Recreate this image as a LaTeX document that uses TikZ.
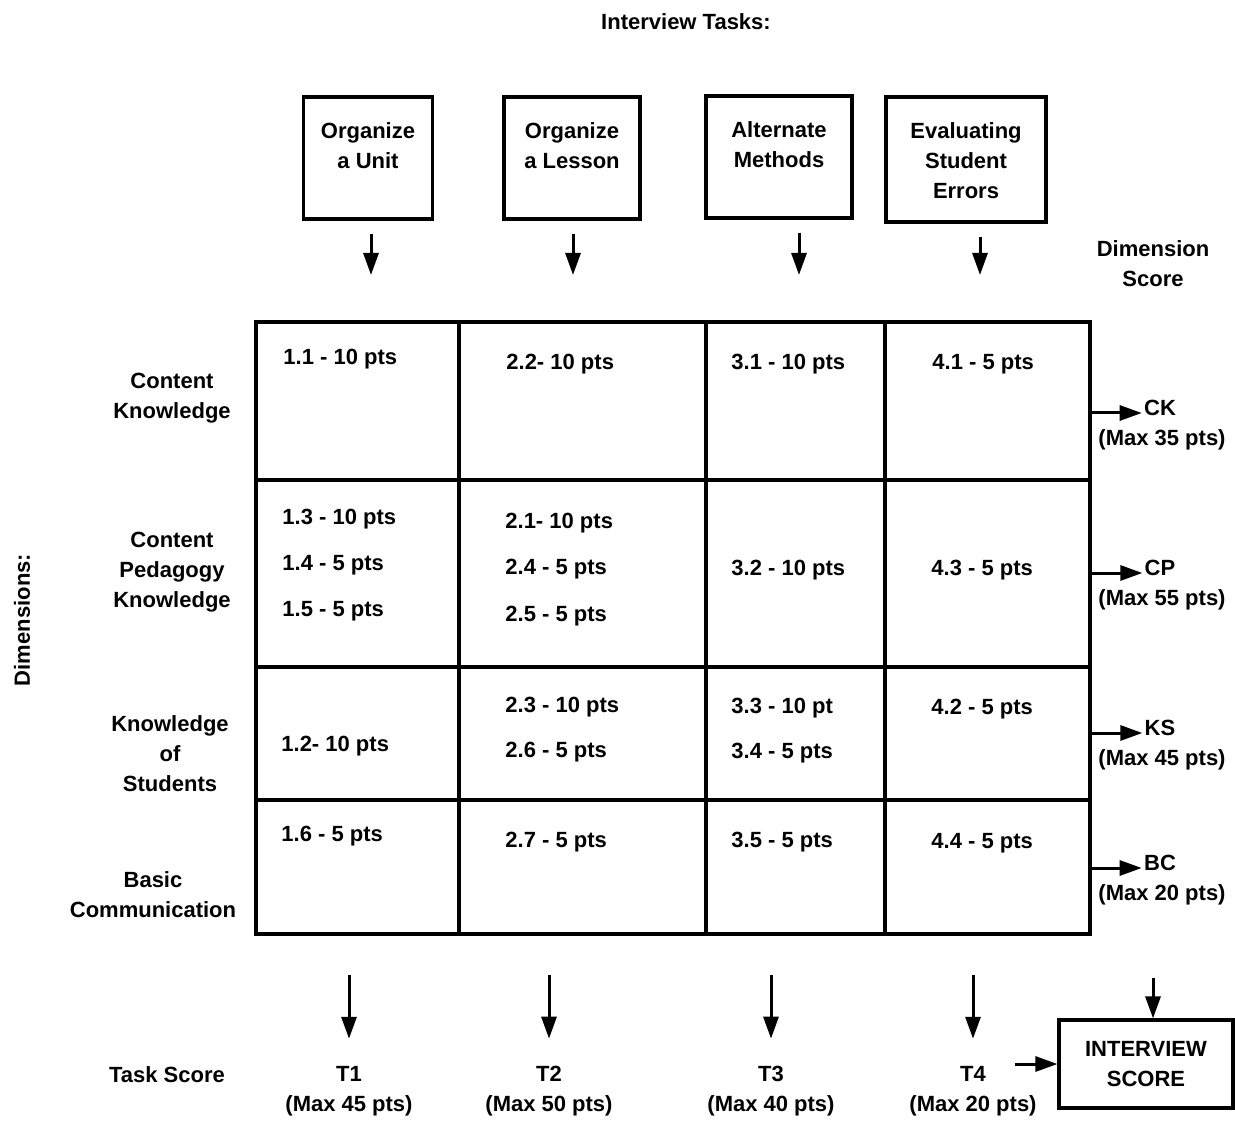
\documentclass[tikz,border=0pt]{standalone}
\usepackage{fontspec}
\setmainfont{Liberation Sans}
\usetikzlibrary{arrows.meta,positioning}

\tikzset{
  lbl/.style={font=\fontsize{11}{15}\selectfont\bfseries, align=center, inner sep=1pt},
  cell/.style={lbl, anchor=west, inner sep=0pt},
  taskbox/.style={draw, line width=1.6pt, minimum width=#1, minimum height=61pt, inner sep=0pt},
  arr/.style={line width=1.5pt, -{Triangle[length=11pt,width=7.5pt]}},
  gridline/.style={line width=1.6pt}
}

\begin{document}
\begin{tikzpicture}[x=0.5pt,y=-0.5pt]
  \useasboundingbox (0,0) rectangle (1235,1122);

  % headings
  \node[lbl] (tasks) at (686,22) {Interview Tasks:};
  \node[lbl] (dimscore) at (1153,264) {Dimension\\Score};
  \node[lbl, rotate=90] (dims) at (22,620) {Dimensions:};
  \node[lbl] (taskscore) at (167,1075) {Task Score};

  % interview tasks
  \node[taskbox=64.5pt] (unit) at (368,158) {};
  \node[taskbox=68pt] (lesson) at (572,158) {};
  \node[taskbox=73pt] (methods) at (779,157) {};
  \node[taskbox=80pt, minimum height=62.5pt] (errors) at (966,159.5) {};
  \node[lbl, below=12.5pt of unit.north] (unit-t) {Organize\\a Unit};
  \node[lbl, below=12.5pt of lesson.north] (lesson-t) {Organize\\a Lesson};
  \node[lbl, below=12.5pt of methods.north] (methods-t) {Alternate\\Methods};
  \node[lbl, below=12.5pt of errors.north] (errors-t) {Evaluating\\Student\\Errors};
  \foreach \b/\x in {unit/371, lesson/573, methods/799, errors/980} {
    \coordinate (\b-out) at (\x,275);
    \draw[arr, shorten <=6.5pt] (\b-out |- \b.south) -- (\b-out);
  }

  % matrix
  \draw[gridline] (256,322) rectangle (1090,934);
  \foreach \x in {459,706,885}
    \draw[gridline] (\x,322) -- (\x,934);
  \foreach \y in {480,667,800}
    \draw[gridline] (256,\y) -- (1090,\y);

  \node[lbl] (rck) at (172,398) {Content\\Knowledge};
  \node[lbl] (rcp) at (172,572) {Content\\Pedagogy\\Knowledge};
  \node[lbl] (rks) at (170,754) {Knowledge\\of\\Students};
  \node[lbl] (rbc) at (153,895) {Basic\\Communication};

  \foreach \x/\y/\t [count=\i] in {
      283/359/1.1 - 10 pts, 506/364/2.2- 10 pts, 731/364/3.1 - 10 pts, 932/364/4.1 - 5 pts,
      282/519/1.3 - 10 pts, 282/565/1.4 - 5 pts, 282/611/1.5 - 5 pts,
      505/523/2.1- 10 pts, 505/569/2.4 - 5 pts, 505/616/2.5 - 5 pts,
      731/570/3.2 - 10 pts, 931/570/4.3 - 5 pts,
      281/746/1.2- 10 pts, 505/707/2.3 - 10 pts, 505/752/2.6 - 5 pts,
      731/708/3.3 - 10 pt, 731/753/3.4 - 5 pts, 931/709/4.2 - 5 pts,
      281/836/1.6 - 5 pts, 505/842/2.7 - 5 pts, 731/842/3.5 - 5 pts, 931/843/4.4 - 5 pts}
    \node[cell] (cell\i) at (\x,\y) {\t};

  % dimension scores
  \foreach \nm/\t/\y/\m in {ck/CK/408/35, cp/CP/568/55, ks/KS/728/45, bc/BC/863/20} {
    \node[lbl] (\nm) at (1160,\y) {\t};
    \node[lbl] (\nm-max) at (1162,\y+32) {(Max \m\ pts)};
    \coordinate (\nm-out) at (1092,\y+5);
    \draw[arr] (\nm-out) -- (\nm-out -| \nm.west);
  }

  % task scores
  \foreach \i/\x/\m in {1/349/45, 2/549/50, 3/771/40, 4/973/20} {
    \node[lbl] (t\i) at (\x,1091) {T\i\\(Max \m\ pts)};
    \coordinate (t\i-in) at (\x,975);
    \draw[arr, shorten >=12.5pt] (t\i-in) -- (t\i-in |- t\i.north);
  }

  % interview score
  \node[lbl, draw, line width=1.6pt, minimum width=87pt, minimum height=44pt] (iv) at (1146,1064) {INTERVIEW\\SCORE};
  \coordinate (iv-in) at (1153,978);
  \draw[arr] (iv-in) -- (iv-in |- iv.north);
  \coordinate (iv-from) at (1015,1064);
  \draw[arr] (iv-from) -- (iv);
\end{tikzpicture}
\end{document}
